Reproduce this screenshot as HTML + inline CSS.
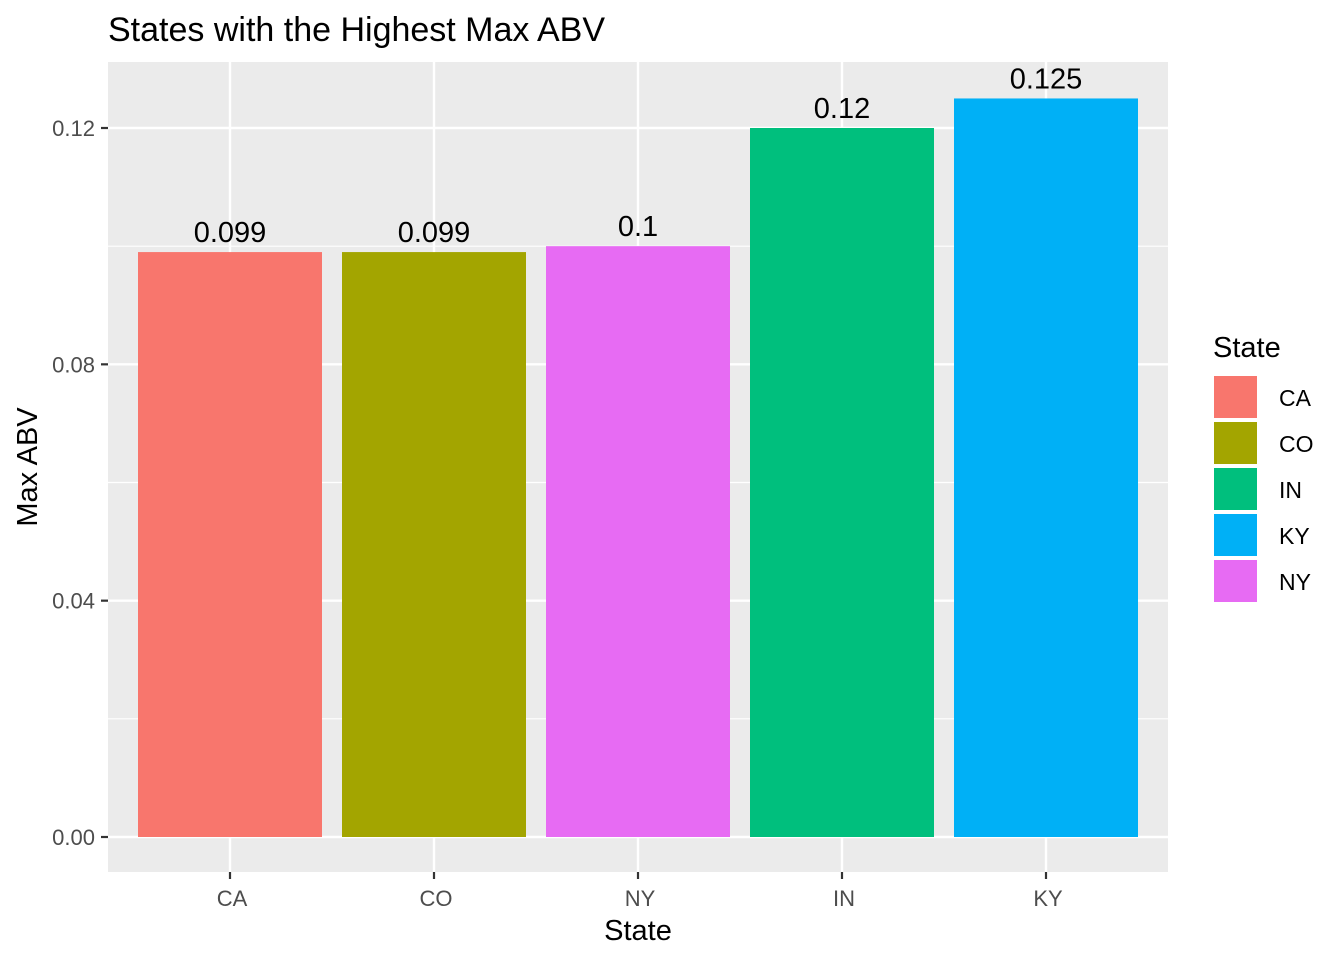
<!DOCTYPE html>
<html><head><meta charset="utf-8"><style>
body{margin:0;background:#fff;}
text{font-family:"Liberation Sans",Arial,sans-serif;}
</style></head><body>
<svg id="chart" width="1344" height="960" xmlns="http://www.w3.org/2000/svg">
<rect width="1344" height="960" fill="#fff"/>
<text x="108" y="41" font-size="34" fill="#000">States with the Highest Max ABV</text>
<rect x="108" y="62" width="1060" height="810" fill="#ebebeb"/>
<g id="grid"></g><g id="bars"></g><g id="axes"></g><g id="legend"></g>
<text x="638" y="940" font-size="29" text-anchor="middle">State</text>
<text transform="translate(37,467) rotate(-90)" font-size="29" text-anchor="middle">Max ABV</text>
</svg>
<script>
const categories=["CA","CO","NY","IN","KY"];
const values=[0.099,0.099,0.1,0.12,0.125];
const labels=["0.099","0.099","0.1","0.12","0.125"];
const colors=["#F8766D","#A3A500","#E76BF3","#00BF7D","#00B0F6"];
const yTicks=[0,0.04,0.08,0.12];
const yTickLabels=["0.00","0.04","0.08","0.12"];
const yMinor=[0.02,0.06,0.10];
const legendCats=["CA","CO","IN","KY","NY"];
const legendColors=["#F8766D","#A3A500","#00BF7D","#00B0F6","#E76BF3"];
const NS="http://www.w3.org/2000/svg";
const y=v=>837-v*(709/0.12);
const x=i=>230+i*204;
function mk(tag,attrs,parent,txt){const e=document.createElementNS(NS,tag);for(const k in attrs)e.setAttribute(k,attrs[k]);if(txt!==undefined)e.textContent=txt;document.getElementById(parent).appendChild(e);return e;}
yMinor.forEach(v=>{const e=mk('line',{x1:108,x2:1168,y1:y(v),y2:y(v),stroke:'#fff','stroke-width':1.2},'grid');

});
yTicks.forEach((v,i)=>{const e=mk('line',{x1:108,x2:1168,y1:y(v),y2:y(v),stroke:'#fff','stroke-width':2.4},'grid');


const t=mk('line',{x1:101,x2:108,y1:y(v),y2:y(v),stroke:'#333','stroke-width':2.2},'axes');


const l=mk('text',{x:95,y:y(v)+8,'font-size':22,fill:'#4d4d4d','text-anchor':'end'},'axes',yTickLabels[i]);

});
categories.forEach((c,i)=>{const g=mk('line',{x1:x(i),x2:x(i),y1:62,y2:872,stroke:'#fff','stroke-width':2.4},'grid');


const b=mk('rect',{x:x(i)-92,y:y(values[i]),width:184,height:837-y(values[i]),fill:colors[i]},'bars');


const vl=mk('text',{x:x(i),y:y(values[i])-10,'font-size':29,'text-anchor':'middle'},'bars',labels[i]);


const t=mk('line',{x1:x(i),x2:x(i),y1:872,y2:879,stroke:'#333','stroke-width':2.2},'axes');


const l=mk('text',{x:x(i)+2,y:906,'font-size':22,fill:'#4d4d4d','text-anchor':'middle'},'axes',c);

});
const lt=mk('text',{x:1213,y:357,'font-size':29},'legend','State');


legendCats.forEach((c,i)=>{const k=mk('rect',{x:1214,y:376+i*46,width:43,height:42,fill:legendColors[i]},'legend');


const l=mk('text',{x:1279,y:406+i*46,'font-size':23},'legend',c);

});
</script>
</body></html>
